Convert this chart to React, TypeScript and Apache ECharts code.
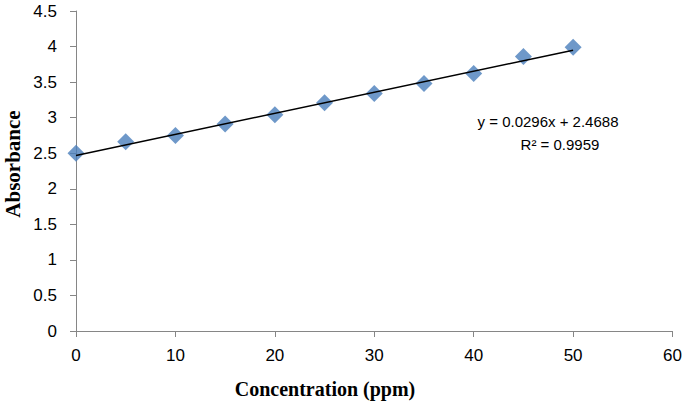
import React, { useEffect, useRef } from "react";
import * as echarts from "echarts";

const concentrations = [0, 5, 10, 15, 20, 25, 30, 35, 40, 45, 50];
const absorbances = [2.5, 2.66, 2.75, 2.91, 3.04, 3.21, 3.34, 3.48, 3.62, 3.86, 3.99];
const slope = 0.0296;
const intercept = 2.4688;
const trendRange = [0, 50];
const equationText = "y = 0.0296x + 2.4688";
const r2Text = "R² = 0.9959";
const xTitle = "Concentration (ppm)";
const yTitle = "Absorbance";

export default function App() {
  const ref = useRef<HTMLDivElement>(null);
  useEffect(() => {
    if (!ref.current) return;
    const chart = echarts.init(ref.current, null, { renderer: "svg" });
    const axisColor = "#868686";
    const labelFont = { fontFamily: "Liberation Sans", fontSize: 17, color: "#000" };
    chart.setOption({
      animation: false,
      backgroundColor: "#fff",
      grid: { left: 76, right: 11, top: 11, bottom: 74 },
      xAxis: {
        type: "value",
        min: 0,
        max: 60,
        interval: 10,
        axisLine: { lineStyle: { color: axisColor, width: 1 } },
        axisTick: { show: true, length: 6, lineStyle: { color: axisColor } },
        splitLine: { show: false },
        axisLabel: { ...labelFont, margin: 16 },
      },
      yAxis: {
        type: "value",
        min: 0,
        max: 4.5,
        interval: 0.5,
        axisLine: { show: true, lineStyle: { color: axisColor, width: 1 } },
        axisTick: { show: true, length: 6, lineStyle: { color: axisColor } },
        splitLine: { show: false },
        axisLabel: { ...labelFont, margin: 19 },
      },
      series: [
        {
          type: "line",
          data: trendRange.map((x) => [x, intercept + slope * x]),
          symbol: "none",
          lineStyle: { color: "#000", width: 1.5 },
          z: 3,
        },
        {
          type: "scatter",
          data: concentrations.map((c, i) => [c, absorbances[i]]),
          symbol: "diamond",
          symbolSize: [17, 17],
          itemStyle: { color: "#4A7EBB" },
          z: 2,
        },
      ],
      graphic: [
        {
          type: "text",
          x: 325,
          y: 389,
          style: {
            text: xTitle,
            font: "bold 20px 'Liberation Serif'",
            fill: "#000",
            textAlign: "center",
            textVerticalAlign: "middle",
          },
        },
        {
          type: "text",
          x: 13,
          y: 164,
          rotation: Math.PI / 2,
          style: {
            text: yTitle,
            font: "bold 21px 'Liberation Serif'",
            fill: "#000",
            textAlign: "center",
            textVerticalAlign: "middle",
          },
        },
        {
          type: "text",
          x: 548,
          y: 121,
          style: {
            text: equationText,
            font: "15px 'Liberation Sans'",
            fill: "#000",
            textAlign: "center",
            textVerticalAlign: "middle",
          },
        },
        {
          type: "text",
          x: 560,
          y: 144,
          style: {
            text: r2Text,
            font: "15px 'Liberation Sans'",
            fill: "#000",
            textAlign: "center",
            textVerticalAlign: "middle",
          },
        },
      ],
    });
    return () => chart.dispose();
  }, []);
  return <div ref={ref} style={{ width: 685, height: 405, position: "absolute", left: 0, top: 0 }} />;
}
